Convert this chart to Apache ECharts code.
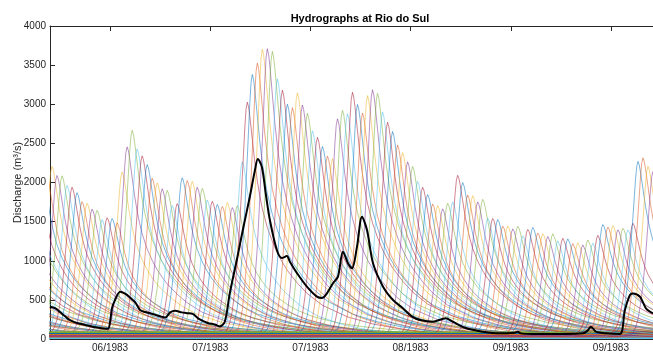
<!DOCTYPE html>
<html>
<head>
<meta charset="utf-8">
<script src="https://cdn.jsdelivr.net/npm/echarts@6/dist/echarts.min.js"></script>
<style>
  html, body { margin: 0; padding: 0; background: #fff; }
  #main { width: 653px; height: 352px; }
</style>
</head>
<body>
<div id="main"></div>
<script>
    // x axis in days from the left edge of the plot
    var tickDays = [12, 32, 52, 72, 92, 112];
    var tickLabels = ['06/1983', '07/1983', '07/1983', '08/1983', '09/1983', '09/1983'];

    // peak of each simulated hydrograph, one per day (first one peaks at day 0.4)
    var firstPeakDay = 0.4;
    // runs that peaked before the left edge (estimated)
    var priorPeaks = [1950, 2000, 2050, 2100, 2100, 2150, 2150, 2100, 2100, 2150,
                      2200, 2200, 2150, 2100, 2100, 2150, 2200, 2200, 2150, 2100,
                      2100, 2150, 2150, 2100, 2100, 2150, 2150, 2100, 2100, 2050];
    var peaks = [2150, 2050, 2000, 1950, 1880, 1800, 1730, 1680, 1620, 1560,
                 1510, 1490, 1470, 1460, 2080, 2415, 2582, 2415, 2280, 2160,
                 2030, 1940, 1880, 1815, 1690, 1670, 1990, 2000, 1960, 1900,
                 1840, 1760, 1700, 1650, 1670, 1690, 1640, 1620, 2250, 2966,
                 3310, 3500, 3650, 3670, 3590, 3310, 3120, 2930, 2930, 3090,
                 2950, 2800, 2646, 2518, 2390, 2313, 2250, 2773, 2837, 2863,
                 3093, 2927, 2863, 3055, 3145, 3055, 2888, 2710, 2582, 2454,
                 2326, 2224, 2121, 2000, 1880, 1776, 1700, 1650, 1623, 1650,
                 1738, 2032, 1930, 1815, 1776, 1712, 1700, 1530, 1480, 1457,
                 1418, 1390, 1367, 1355, 1303, 1340, 1355, 1329, 1290, 1270,
                 1260, 1240, 1227, 1210, 1195, 1176, 1163, 1180, 1210, 1265,
                 1393, 1405, 1393, 1355, 1330, 1380, 1418, 2200, 2290, 2150,
                 2100];

    // shape of one hydrograph: days from peak -> fraction of peak
    var unitT = [-5, -4, -3.5, -3, -2.5, -2, -1.5, -1, -0.5, -0.25, 0, 0.25, 0.5, 1, 1.5, 2, 2.5,
                 3, 4, 5, 6, 7, 8, 10, 12, 15, 20, 25, 30, 35, 40];
    var unitQ = [0, 0.02, 0.05, 0.1, 0.19, 0.31, 0.48, 0.68, 0.89, 0.97, 1, 0.98, 0.94, 0.84, 0.74, 0.66, 0.595,
                 0.54, 0.46, 0.40, 0.35, 0.31, 0.275, 0.22, 0.175, 0.125, 0.075, 0.045, 0.025, 0.012, 0];
    // low flow each run sits on before its rise
    var baseLevels = [70, 25, 55, 40, 85, 15, 60];

    // observed discharge (black)
    var obsDay = [0, 1, 2, 3, 4, 5, 6, 7, 8, 9, 10, 11, 11.6, 12, 12.4, 13, 14, 15, 16, 17, 18, 19, 20, 21, 22, 23, 24, 25,
                  26.3, 27.3, 28.5, 29.9, 31.5, 32.9, 33.9, 34.9, 35.9, 37.3, 38.5, 39.9, 40.9, 41.5, 42.3, 43.1, 43.9,
                  45.3, 46.3, 47.3, 47.9, 49.3, 51.3, 53.3, 54.3, 55.3, 56.5, 57.5, 58.5, 59.5, 60.3, 61.3, 62.3, 63.3,
                  64.5, 66.5, 68.5, 70.5, 72.3, 73.9, 76.4, 79.0, 80.4, 83.0, 86.4, 89.8, 92.8, 93.4, 94.0, 96.4, 99.8,
                  103.0, 106.4, 107.4, 108.0, 109.0, 111.0, 113.8, 114.8, 115.8, 116.4, 117.8, 119.0, 120.4];
    var obsQ = [413, 395, 345, 290, 240, 212, 195, 180, 165, 150, 140, 132, 130, 220, 400, 500, 605, 580, 530, 470, 370, 345, 330, 310, 290, 275, 340, 360,
                340, 330, 320, 250, 205, 185, 160, 221, 584, 1010, 1393, 1818, 2150, 2300, 2200, 1850, 1521,
                1137, 1035, 1060, 988, 843, 669, 541, 524, 584, 712, 797, 1116, 967, 903, 1180, 1563, 1393,
                967, 669, 498, 391, 285, 242, 221, 264, 221, 140, 94, 72, 80, 94, 72, 64, 64,
                64, 72, 110, 157, 94, 72, 64, 370, 562, 583, 540, 392, 327];

    var colors = ['#0072BD', '#D95319', '#EDB120', '#7E2F8E', '#77AC30', '#4DBEEE', '#A2142F'];
    var axisColor = '#262626';

    var myChart = echarts.init(document.getElementById('main'));

    var series = [];
    var allPeaks = priorPeaks.concat(peaks);
    allPeaks.forEach(function (p, i) {
        var day = firstPeakDay + i - priorPeaks.length;
        var base = baseLevels[i % baseLevels.length];
        var pts = [[-60, base]];
        for (var k = 0; k < unitT.length; k++) {
            pts.push([day + unitT[k], base + p * unitQ[k]]);
        }
        pts.push([200, base]);
        series.push({
            type: 'line',
            data: pts,
            symbol: 'none',
            silent: true,
            lineStyle: { width: 0.8, color: colors[i % colors.length], opacity: 0.65 }
        });
    });

    var obs = obsDay.map(function (d, i) { return [d, obsQ[i]]; });
    series.push({
        type: 'line',
        data: obs,
        symbol: 'none',
        smooth: 0.3,
        silent: true,
        z: 10,
        lineStyle: { width: 2, color: '#000' }
    });

    var option = {
        animation: false,
        textStyle: { fontFamily: 'Liberation Sans, Arial, sans-serif' },
        title: {
            text: 'Hydrographs at Rio do Sul',
            left: 355,
            top: 8,
            textAlign: 'center',
            textStyle: { fontSize: 11, fontWeight: 'bold', color: '#000', fontFamily: 'Liberation Sans, Arial, sans-serif' }
        },
        grid: { left: 50, top: 26, width: 611, height: 313, outerBoundsMode: 'none' },
        xAxis: [{
            type: 'value',
            min: 0,
            max: 122,
            position: 'bottom',
            axisLine: { show: true, onZero: false, lineStyle: { color: axisColor } },
            axisTick: { show: true, inside: true, length: 5, customValues: tickDays, lineStyle: { color: axisColor } },
            axisLabel: {
                customValues: tickDays,
                margin: 4,
                fontSize: 10,
                color: axisColor,
                formatter: function (v) { return tickLabels[tickDays.indexOf(v)]; }
            },
            splitLine: { show: false }
        }, {
            type: 'value',
            min: 0,
            max: 122,
            position: 'top',
            axisLine: { show: true, onZero: false, lineStyle: { color: axisColor } },
            axisTick: { show: true, inside: true, length: 5, customValues: tickDays, lineStyle: { color: axisColor } },
            axisLabel: { show: false },
            splitLine: { show: false }
        }],
        yAxis: {
            type: 'value',
            min: 0,
            max: 4000,
            interval: 500,
            name: 'Discharge (m³/s)',
            nameLocation: 'middle',
            nameGap: 27,
            nameMoveOverlap: false,
            nameTextStyle: { fontSize: 11, color: axisColor },
            axisLine: { show: true, lineStyle: { color: axisColor } },
            axisTick: { show: true, inside: true, length: 5, lineStyle: { color: axisColor } },
            axisLabel: {
                margin: 4,
                fontSize: 10,
                color: axisColor,
                formatter: function (v) { return String(v); }
            },
            splitLine: { show: false }
        },
        series: series
    };
    myChart.setOption(option);
</script>
</body>
</html>
